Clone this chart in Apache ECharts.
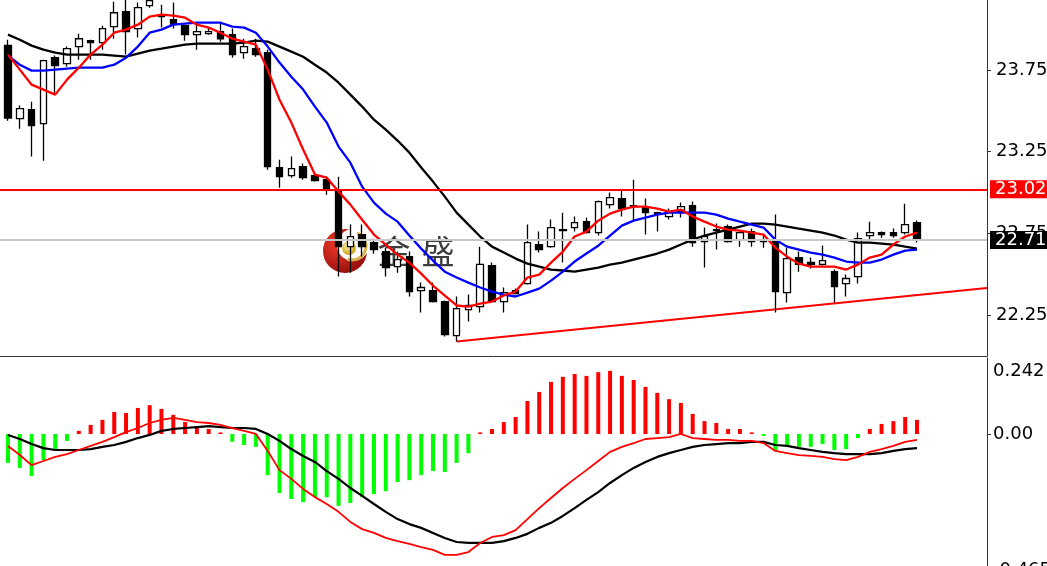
<!DOCTYPE html>
<html><head><meta charset="utf-8">
<script src="https://cdn.jsdelivr.net/npm/echarts@6/dist/echarts.min.js"></script>
<style>html,body{margin:0;padding:0;background:#fff}#c{width:1047px;height:566px}</style>
</head><body><div id="c"></div>
<script>
// ---- price candles (open / close / low / high) ----
const opens  = [23.90,23.452,23.507,23.422,23.825,23.789,23.893,23.929,23.917,24.015,24.107,24.003,24.143,24.088,24.058,24.021,23.966,23.972,23.984,23.966,23.856,23.88,23.856,23.153,23.104,23.159,23.104,23.079,23.018,22.669,22.743,22.694,22.639,22.547,22.608,22.40,22.40,22.333,22.125,22.284,22.302,22.553,22.333,22.40,22.443,22.682,22.669,22.767,22.786,22.822,22.755,22.926,22.963,22.92,22.908,22.877,22.853,22.883,22.92,22.70,22.773,22.792,22.712,22.761,22.706,22.712,22.388,22.602,22.572,22.56,22.516,22.443,22.486,22.737,22.755,22.755,22.755,22.816];
const closes = [23.456,23.513,23.409,23.807,23.776,23.88,23.941,23.917,24.003,24.10,23.984,24.131,24.174,24.076,24.027,23.966,23.984,23.984,23.941,23.844,23.893,23.844,23.159,23.097,23.146,23.091,23.073,23.024,22.669,22.73,22.669,22.651,22.541,22.59,22.394,22.419,22.333,22.131,22.29,22.309,22.56,22.333,22.388,22.382,22.694,22.651,22.786,22.773,22.816,22.755,22.945,22.969,22.902,22.914,22.877,22.871,22.883,22.914,22.694,22.73,22.767,22.70,22.755,22.70,22.70,22.394,22.596,22.56,22.56,22.584,22.425,22.474,22.718,22.755,22.743,22.737,22.804,22.712];
const lows   = [23.44,23.391,23.22,23.195,23.599,23.77,23.813,23.813,23.874,23.941,23.844,23.948,24.131,24.009,24.003,23.929,23.874,23.966,23.923,23.825,23.819,23.831,23.14,23.03,23.091,23.079,23.067,22.987,22.486,22.51,22.608,22.626,22.486,22.51,22.364,22.266,22.327,22.119,22.088,22.211,22.266,22.327,22.266,22.376,22.437,22.633,22.663,22.572,22.761,22.749,22.737,22.902,22.853,22.822,22.743,22.761,22.835,22.847,22.669,22.541,22.651,22.694,22.669,22.669,22.663,22.266,22.327,22.516,22.535,22.553,22.327,22.364,22.443,22.712,22.724,22.724,22.743,22.694];
const highs  = [23.935,23.532,23.556,23.813,23.838,23.893,23.972,23.935,24.021,24.168,24.18,24.162,24.20,24.149,24.162,24.027,24.039,24.009,24.045,24.003,23.941,23.941,23.874,23.201,23.22,23.177,23.11,23.097,23.097,22.804,22.804,22.718,22.663,22.639,22.639,22.45,22.45,22.339,22.364,22.376,22.669,22.572,22.419,22.413,22.804,22.761,22.835,22.877,22.853,22.847,22.951,23.0,23.018,23.079,22.963,22.883,22.902,22.939,22.945,22.786,22.81,22.804,22.761,22.78,22.737,22.865,22.663,22.639,22.602,22.676,22.529,22.498,22.755,22.822,22.761,22.78,22.932,22.829];

// ---- moving averages ----
const maFast = [23.844,23.752,23.66,23.63,23.599,23.691,23.764,23.844,23.905,23.978,23.997,24.027,24.076,24.088,24.082,24.07,24.027,24.009,23.978,23.941,23.923,23.905,23.752,23.568,23.428,23.263,23.11,23.091,23.006,22.926,22.834,22.743,22.682,22.62,22.571,22.504,22.431,22.37,22.309,22.302,22.321,22.333,22.37,22.394,22.48,22.498,22.571,22.639,22.731,22.761,22.828,22.871,22.896,22.914,22.914,22.902,22.883,22.896,22.853,22.822,22.792,22.773,22.767,22.755,22.743,22.663,22.608,22.565,22.547,22.547,22.547,22.529,22.559,22.602,22.62,22.682,22.731,22.755];
const maMid  = [23.838,23.782,23.746,23.746,23.752,23.758,23.764,23.764,23.764,23.782,23.825,23.893,23.978,23.997,24.027,24.033,24.039,24.039,24.039,24.015,24.009,23.978,23.893,23.795,23.709,23.63,23.526,23.428,23.281,23.183,23.036,22.938,22.871,22.822,22.737,22.657,22.584,22.516,22.48,22.449,22.419,22.394,22.376,22.364,22.388,22.412,22.461,22.516,22.578,22.627,22.675,22.737,22.798,22.828,22.847,22.865,22.877,22.877,22.877,22.877,22.865,22.841,22.822,22.804,22.786,22.712,22.669,22.651,22.633,22.62,22.602,22.578,22.571,22.571,22.59,22.62,22.645,22.651];
const maSlow = [23.966,23.935,23.899,23.874,23.856,23.844,23.844,23.844,23.844,23.838,23.831,23.85,23.868,23.88,23.893,23.905,23.911,23.911,23.911,23.911,23.917,23.929,23.923,23.893,23.862,23.831,23.782,23.734,23.672,23.599,23.526,23.446,23.385,23.318,23.244,23.153,23.067,22.975,22.877,22.804,22.731,22.669,22.633,22.596,22.565,22.547,22.529,22.523,22.516,22.529,22.541,22.559,22.571,22.59,22.608,22.627,22.651,22.682,22.712,22.737,22.755,22.773,22.792,22.81,22.81,22.804,22.792,22.779,22.767,22.755,22.737,22.712,22.694,22.694,22.688,22.682,22.669,22.657];

// ---- MACD ----
const macdHist   = [-0.092,-0.108,-0.134,-0.083,-0.051,-0.022,0.010,0.029,0.045,0.070,0.067,0.083,0.092,0.080,0.061,0.038,0.022,0.016,0.005,-0.025,-0.035,-0.041,-0.131,-0.188,-0.207,-0.217,-0.201,-0.201,-0.229,-0.220,-0.201,-0.191,-0.182,-0.153,-0.147,-0.131,-0.118,-0.121,-0.092,-0.061,0.005,0.016,0.038,0.054,0.105,0.134,0.166,0.182,0.191,0.185,0.197,0.201,0.185,0.172,0.150,0.131,0.111,0.099,0.064,0.041,0.035,0.016,0.016,0.005,-0.006,-0.054,-0.038,-0.041,-0.041,-0.032,-0.051,-0.048,-0.013,0.016,0.032,0.041,0.054,0.045];
const macdMain   = [-0.038,-0.067,-0.099,-0.086,-0.073,-0.064,-0.051,-0.038,-0.025,-0.010,0.006,0.019,0.035,0.045,0.051,0.045,0.038,0.035,0.029,0.019,0.010,0,-0.054,-0.115,-0.143,-0.175,-0.201,-0.223,-0.248,-0.280,-0.303,-0.315,-0.331,-0.341,-0.350,-0.360,-0.369,-0.385,-0.385,-0.376,-0.347,-0.328,-0.322,-0.306,-0.271,-0.236,-0.204,-0.172,-0.143,-0.115,-0.086,-0.057,-0.041,-0.029,-0.016,-0.013,-0.010,0,-0.013,-0.016,-0.019,-0.019,-0.022,-0.022,-0.029,-0.054,-0.061,-0.067,-0.070,-0.073,-0.080,-0.083,-0.073,-0.057,-0.048,-0.038,-0.025,-0.019];
const macdSignal = [-0.003,-0.016,-0.032,-0.045,-0.051,-0.051,-0.051,-0.048,-0.041,-0.035,-0.025,-0.013,-0.003,0.010,0.016,0.019,0.022,0.025,0.022,0.019,0.019,0.016,0,-0.022,-0.048,-0.070,-0.089,-0.118,-0.143,-0.172,-0.197,-0.223,-0.248,-0.271,-0.287,-0.299,-0.315,-0.331,-0.344,-0.347,-0.347,-0.347,-0.341,-0.331,-0.318,-0.299,-0.283,-0.261,-0.236,-0.210,-0.185,-0.156,-0.131,-0.108,-0.089,-0.073,-0.061,-0.051,-0.041,-0.035,-0.032,-0.029,-0.029,-0.025,-0.025,-0.035,-0.038,-0.045,-0.051,-0.057,-0.061,-0.064,-0.064,-0.064,-0.061,-0.054,-0.048,-0.045];

// ---- levels & ticks ----
const priceTicks = [22.25, 22.75, 23.25, 23.75];
const macdTicks = [0.242, 0, -0.465];
const resistance = 23.02;
const lastPrice = 22.71;
const trendX = [38, 82.93];
const trendY = [22.088, 22.416];

const idx = opens.map((_, i) => i);
const candleData = idx.map(i => [i, opens[i], closes[i], lows[i], highs[i]]);
const pair = arr => arr.map((v, i) => [i, v]);
const FONT = 'DejaVu Sans';
const FS = 18;
const xMin = -0.678, xMax = 82.93;

const chart = echarts.init(document.getElementById('c'), null, {renderer: 'canvas'});
chart.setOption({
  animation: false,
  backgroundColor: '#ffffff',
  grid: [
    {left: 0, top: 0, width: 987, height: 356, outerBoundsMode: 'none', containLabel: false},
    {left: 0, top: 358, width: 987, height: 222, outerBoundsMode: 'none', containLabel: false}
  ],
  xAxis: [
    {type: 'value', gridIndex: 0, min: xMin, max: xMax,
     axisLine: {show: true, onZero: false, lineStyle: {color: '#333', width: 1}},
     axisTick: {show: false}, axisLabel: {show: false}, splitLine: {show: false}},
    {type: 'value', gridIndex: 1, min: xMin, max: xMax, show: false}
  ],
  yAxis: [
    {type: 'value', gridIndex: 0, position: 'right', min: 22.0, max: 24.178, scale: true,
     axisLine: {show: true, onZero: false, lineStyle: {color: '#333', width: 1}},
     axisTick: {show: true, length: 4, customValues: priceTicks, lineStyle: {color: '#333'}},
     axisLabel: {show: true, customValues: priceTicks, formatter: v => Number(v).toFixed(2),
                 color: '#000', fontSize: FS, fontFamily: FONT, margin: 9},
     splitLine: {show: false}},
    {type: 'value', gridIndex: 1, position: 'right', min: -0.465, max: 0.242, scale: true,
     axisLine: {show: true, onZero: false, lineStyle: {color: '#333', width: 1}},
     axisTick: {show: true, length: 4, customValues: [0], lineStyle: {color: '#333'}},
     axisLabel: {show: true, customValues: macdTicks, color: '#000', fontSize: FS, fontFamily: FONT, margin: 6,
       formatter: v => {
         v = Number(v);
         if (v === 0) return '{m|0.00}';
         if (v > 0) return '{t|' + v.toFixed(3) + '}';
         return '{b|' + v.toFixed(3) + '}';
       },
       rich: {
         m: {fontSize: FS, fontFamily: FONT, color: '#000'},
         t: {fontSize: FS, fontFamily: FONT, color: '#000', padding: [26, 0, 0, 0]},
         b: {fontSize: FS, fontFamily: FONT, color: '#000', padding: [0, 0, 20, 0]}
       }},
     splitLine: {show: false}}
  ],
  graphic: [
    {type: 'circle', z: 2, shape: {cx: 345, cy: 251, r: 22},
     style: {fill: new echarts.graphic.RadialGradient(0.35, 0.35, 0.8, [{offset: 0, color: '#f03a2a'}, {offset: 1, color: '#8a0808'}])}},
    {type: 'circle', z: 2, shape: {cx: 353, cy: 245, r: 16}, style: {fill: '#ffffff'}},
    {type: 'arc', z: 2, shape: {cx: 352, cy: 246, r: 14, startAngle: -1.2, endAngle: 1.9},
     style: {stroke: '#d6b44a', lineWidth: 3, fill: null}},
    {type: 'circle', z: 2, shape: {cx: 349, cy: 248, r: 7},
     style: {fill: new echarts.graphic.RadialGradient(0.4, 0.35, 0.7, [{offset: 0, color: '#fff3a0'}, {offset: 1, color: '#c49a10'}])}},
    {type: 'text', z: 2, style: {x: 394, y: 251, text: '金', fontSize: 33, fontFamily: 'Noto Sans CJK SC',
      fill: 'rgba(40,40,40,0.9)', align: 'center', verticalAlign: 'middle'}},
    {type: 'text', z: 2, style: {x: 438, y: 251, text: '盛', fontSize: 33, fontFamily: 'Noto Sans CJK SC',
      fill: 'rgba(40,40,40,0.9)', align: 'center', verticalAlign: 'middle'}}
  ],
  series: [
    {name: 'levels', type: 'line', xAxisIndex: 0, yAxisIndex: 0, z: 1, clip: false,
     data: trendX.map((x, i) => [x, trendY[i]]), showSymbol: false, silent: true,
     lineStyle: {color: '#ff0000', width: 2},
     markLine: {silent: true, symbol: ['none', 'none'], animation: false,
       data: [
         {yAxis: resistance, lineStyle: {color: '#ff0000', width: 2, type: 'solid'},
          label: {show: true, position: 'end', distance: 3, formatter: resistance.toFixed(2),
                  color: '#fff', backgroundColor: '#ff0000', padding: [0, 8, 0, 5], fontSize: FS, fontFamily: FONT}},
         {yAxis: lastPrice, lineStyle: {color: '#c8c8c8', width: 2, type: 'solid'},
          label: {show: true, position: 'end', distance: 3, formatter: lastPrice.toFixed(2),
                  color: '#fff', backgroundColor: '#000', padding: [0, 8, 0, 5], fontSize: FS, fontFamily: FONT}}
       ]}},
    {name: 'K', type: 'candlestick', xAxisIndex: 0, yAxisIndex: 0, z: 3, data: candleData, barWidth: 7,
     itemStyle: {color: '#ffffff', color0: '#000000', borderColor: '#000000', borderColor0: '#000000', borderWidth: 1.3}},
    {name: 'MA slow', type: 'line', xAxisIndex: 0, yAxisIndex: 0, z: 4, data: pair(maSlow), showSymbol: false,
     lineStyle: {color: '#000000', width: 2.3}},
    {name: 'MA mid', type: 'line', xAxisIndex: 0, yAxisIndex: 0, z: 4, data: pair(maMid), showSymbol: false,
     lineStyle: {color: '#0000ff', width: 2.3}},
    {name: 'MA fast', type: 'line', xAxisIndex: 0, yAxisIndex: 0, z: 4, data: pair(maFast), showSymbol: false,
     lineStyle: {color: '#ff0000', width: 2.3}},
    {name: 'hist', type: 'bar', xAxisIndex: 1, yAxisIndex: 1, z: 3, data: pair(macdHist), barWidth: 4,
     itemStyle: {color: p => (p.value[1] >= 0 ? '#ff0000' : '#00ff00')}},
    {name: 'signal', type: 'line', xAxisIndex: 1, yAxisIndex: 1, z: 4, data: pair(macdSignal), showSymbol: false,
     lineStyle: {color: '#000000', width: 2.2}},
    {name: 'macd', type: 'line', xAxisIndex: 1, yAxisIndex: 1, z: 4, data: pair(macdMain), showSymbol: false,
     lineStyle: {color: '#ff0000', width: 1.8}}
  ]
});
</script>
</body></html>
